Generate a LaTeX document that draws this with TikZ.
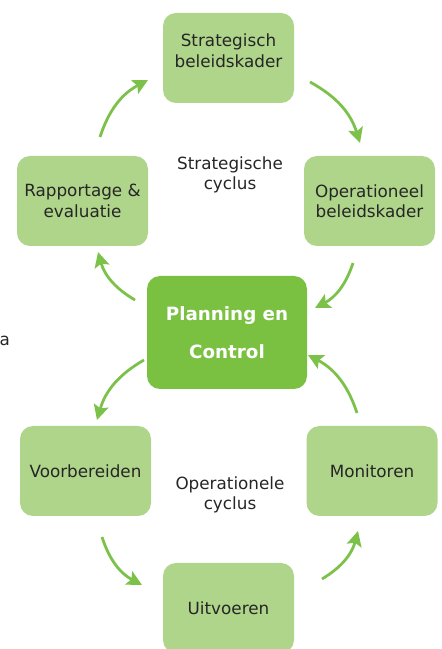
\documentclass[tikz,border=0pt]{standalone}
\usepackage{fontspec}
\setmainfont{DejaVu Sans}
\usetikzlibrary{arrows.meta}
\usetikzlibrary{positioning}
\definecolor{lightleaf}{HTML}{AFD58A}
\definecolor{darkleaf}{HTML}{7AC142}
\definecolor{arrowleaf}{HTML}{7CC24A}
\definecolor{inktext}{HTML}{262626}
\tikzset{
  stage/.style={fill=lightleaf,rounded corners=13pt,minimum width=131pt,minimum height=90pt,
    align=center,text=inktext,font=\fontsize{16.8}{20.5}\selectfont,inner sep=0pt},
  hub/.style={fill=darkleaf,rounded corners=13pt,minimum width=160pt,minimum height=113pt,
    align=center,text=white,font=\fontsize{18.3}{38}\selectfont\bfseries,inner sep=0pt},
  label/.style={align=center,text=inktext,font=\fontsize{16.8}{20.5}\selectfont},
  flow/.style={draw=arrowleaf,line width=2.8pt,-{Stealth[length=15pt,width=15pt,inset=3pt]}}}

\begin{document}
\begin{tikzpicture}[x=1pt,y=1pt]
  \useasboundingbox (0,0) rectangle (442,649);
  % strategische cyclus
  \node [stage] (strat) at (228.5,591) {Strategisch\\beleidskader\\[-6pt]};
  \node [stage] (oper) at (369.5,448) {Operationeel\\beleidskader};
  \node [stage] (report) at (82.5,448) {Rapportage \&\\evaluatie};
  \node [hub] (pc) at (227,316.5) {Planning en\\Control};
  \node [label] (stratlbl) at (230,474) {Strategische\\cyclus};
  % operationele cyclus
  \node [stage] (prep) at (85.5,178) {Voorbereiden};
  \node [stage] (mon) at (372,178) {Monitoren};
  \node [stage] (exec) at (228.5,41) {Uitvoeren};
  \node [label] (operlbl) at (230,154) {Operationele\\cyclus};
  \node [label,anchor=west,inner sep=0pt] (frag) at (-0.5,308) {a};
  % pijlen
  \coordinate (s1) at (310,567); \coordinate (e1) at (360,506);
  \coordinate (s2) at (353,386); \coordinate (e2) at (315,341);
  \coordinate (s3) at (135,349); \coordinate (e3) at (98,397);
  \coordinate (s4) at (100,512); \coordinate (e4) at (148,569);
  \coordinate (s5) at (144,289); \coordinate (e5) at (97,229);
  \coordinate (s6) at (102,112); \coordinate (e6) at (142,64);
  \coordinate (s7) at (322,70);  \coordinate (e7) at (358,118);
  \coordinate (s8) at (357,236); \coordinate (e8) at (308,294);
  \foreach \i in {1,...,4}
    \draw [flow] (s\i) to [bend left=22] (e\i);
  \foreach \i in {5,...,8}
    \draw [flow] (s\i) to [bend right=22] (e\i);
\end{tikzpicture}
\end{document}
